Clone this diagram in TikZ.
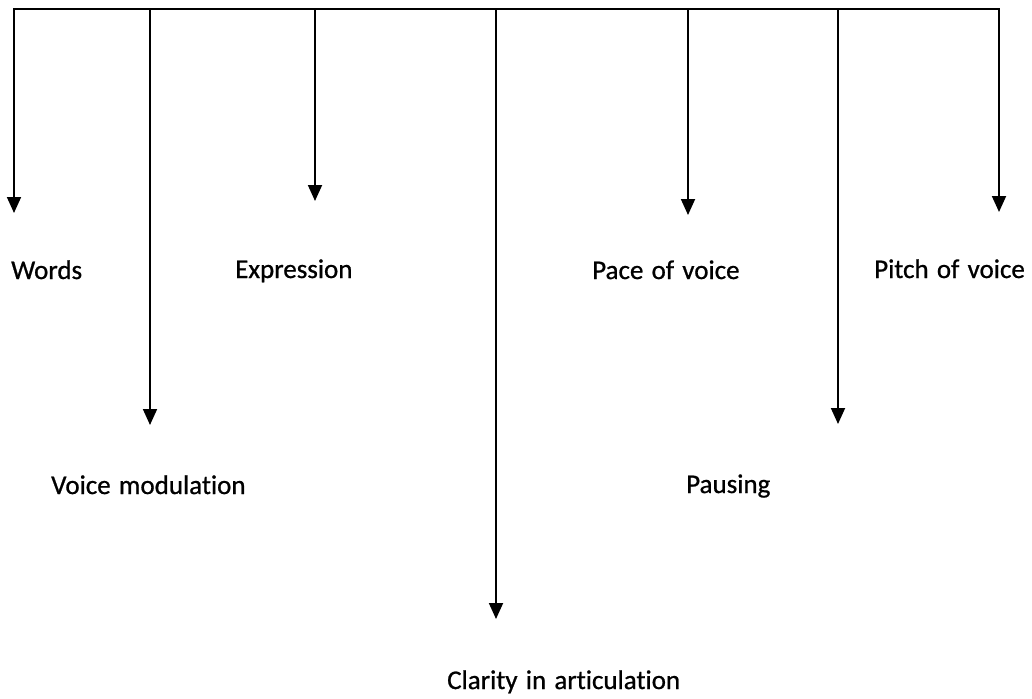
\documentclass[tikz,border=0pt]{standalone}
\usepackage{fontspec}
\setmainfont{Carlito}[Ligatures=NoCommon,WordSpace=1.35,FakeBold=0.8]
\usetikzlibrary{arrows.meta}
\begin{document}
\begin{tikzpicture}[x=1pt,y=-1pt,
  conn/.style={line width=1.8pt,-{Triangle[width=14pt,length=16pt]}},
  topline/.style={line width=1.8pt,line cap=rect},
  lbl/.style={anchor=base west,inner sep=0pt,font=\fontsize{27}{32}\selectfont}]
\useasboundingbox (0,0) rectangle (1032,698);
% top bar
\coordinate (L) at (14,9);
\coordinate (R) at (999,9);
\draw[topline] (L) -- (R);
% branch points
\coordinate (b1) at (14,9);
\coordinate (b2) at (150,9);
\coordinate (b3) at (315,9);
\coordinate (b4) at (496,9);
\coordinate (b5) at (688,9);
\coordinate (b6) at (838,9);
\coordinate (b7) at (999,9);
% arrow tips
\coordinate (t1) at (14,213);
\coordinate (t2) at (150,425);
\coordinate (t3) at (315,201);
\coordinate (t4) at (496,619);
\coordinate (t5) at (688,215);
\coordinate (t6) at (838,424);
\coordinate (t7) at (999,212);
\foreach \i in {1,...,7} \draw[conn] (b\i) -- (t\i);
% labels
\node[lbl] (words) at (11,279) {Words};
\node[lbl] (vm) at (51,494) {Voice modulation};
\node[lbl] (expr) at (235,278) {Expression};
\node[lbl] (clar) at (447,689) {Clarity in articulation};
\node[lbl] (pace) at (592,279) {Pace of voice};
\node[lbl] (paus) at (686,493) {Pausing};
\node[lbl] (pitch) at (874,278) {Pitch of voice};
\end{tikzpicture}
\end{document}
